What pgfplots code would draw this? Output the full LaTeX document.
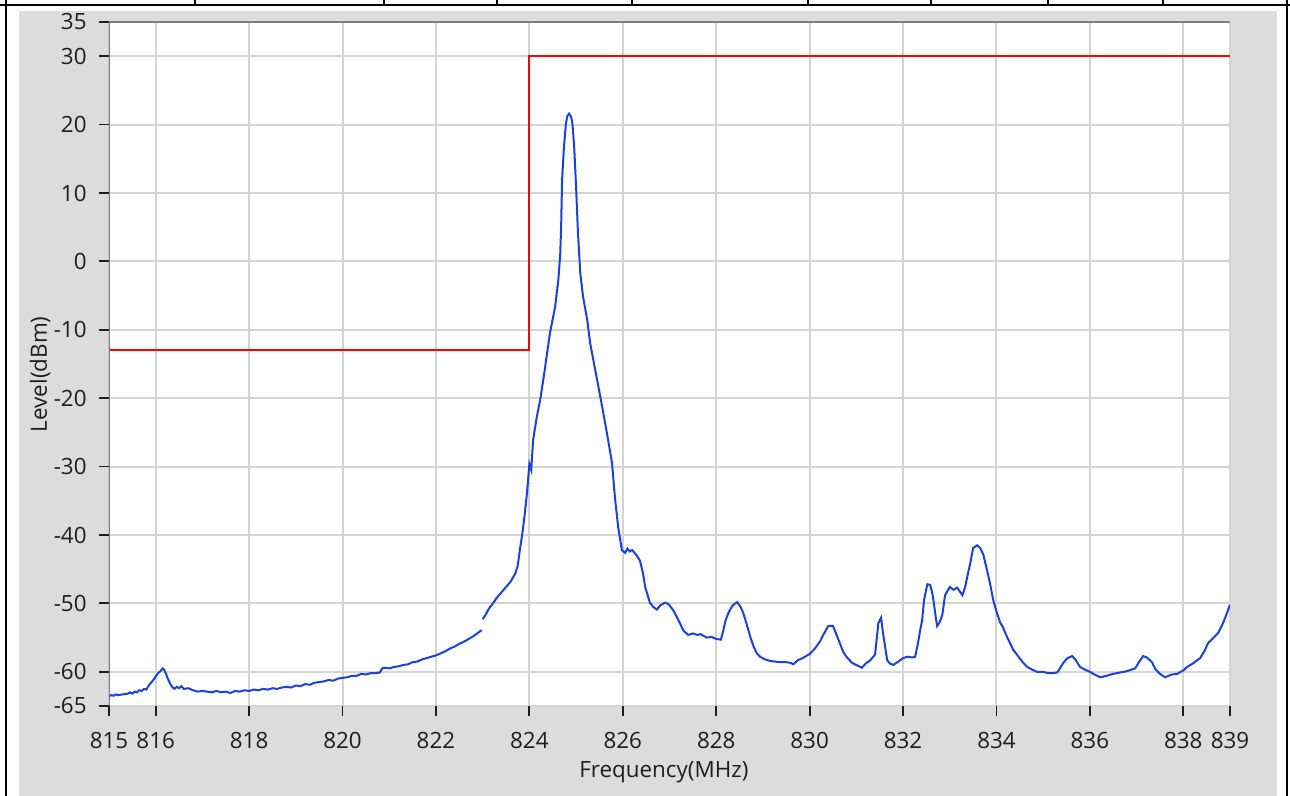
\documentclass[border=0pt]{standalone}
\usepackage{pgfplots}
\pgfplotsset{compat=1.18}
\usepackage{fontspec}
\setmainfont{Open Sans}
\definecolor{panel}{RGB}{220,220,220}
\definecolor{gridc}{RGB}{212,212,212}
\definecolor{tracec}{RGB}{25,65,220}
\definecolor{framec}{RGB}{125,125,125}
\definecolor{txt}{RGB}{30,30,30}

\pgfplotstableread{
x y
815.00 -63.6
815.05 -63.4
815.10 -63.5
815.15 -63.3
815.20 -63.4
815.30 -63.3
815.40 -63.2
815.45 -63.0
815.50 -63.2
815.55 -62.9
815.60 -63.0
815.65 -62.7
815.70 -62.8
815.75 -62.5
815.80 -62.6
815.85 -62.0
815.90 -61.6
815.95 -61.2
816.00 -60.7
816.05 -60.2
816.10 -59.9
816.15 -59.5
816.18 -59.7
816.22 -60.3
816.26 -61.0
816.30 -61.6
816.35 -62.2
816.40 -62.5
816.45 -62.2
816.50 -62.4
816.55 -62.1
816.60 -62.5
816.70 -62.4
816.80 -62.7
816.90 -62.9
817.00 -62.8
817.10 -62.9
817.20 -63.0
817.30 -62.8
817.40 -63.0
817.50 -62.9
817.60 -63.1
817.70 -62.8
817.80 -62.9
817.90 -62.7
818.00 -62.8
818.10 -62.6
818.20 -62.7
818.30 -62.5
818.40 -62.6
818.50 -62.4
818.60 -62.5
818.70 -62.3
818.80 -62.2
818.90 -62.3
819.00 -62.0
819.10 -62.1
819.20 -61.8
819.30 -61.9
819.40 -61.6
819.50 -61.5
819.60 -61.4
819.70 -61.2
819.80 -61.3
819.90 -61.0
820.00 -60.9
820.10 -60.8
820.20 -60.6
820.30 -60.6
820.40 -60.3
820.50 -60.4
820.60 -60.2
820.70 -60.2
820.80 -60.1
820.85 -59.5
820.90 -59.4
821.00 -59.5
821.10 -59.3
821.20 -59.2
821.30 -59.0
821.40 -58.9
821.50 -58.6
821.60 -58.5
821.70 -58.2
821.80 -58.0
821.90 -57.8
822.00 -57.6
822.10 -57.3
822.20 -57.0
822.30 -56.6
822.40 -56.3
822.50 -55.9
822.60 -55.6
822.70 -55.2
822.80 -54.8
822.90 -54.3
822.98 -53.9
}\traceA

\pgfplotstableread{
x y
823.00 -52.3
823.05 -51.8
823.10 -51.2
823.15 -50.6
823.20 -50.2
823.30 -49.2
823.40 -48.4
823.50 -47.6
823.60 -46.8
823.70 -45.6
823.75 -44.5
823.80 -42.0
823.85 -39.8
823.90 -37.0
823.95 -33.8
824.00 -29.6
824.04 -30.5
824.08 -26.1
824.16 -22.7
824.23 -20.3
824.30 -17.2
824.38 -13.4
824.44 -10.5
824.55 -6.7
824.62 -2.7
824.66 1.0
824.68 5.0
824.70 11.9
824.74 16.7
824.78 20.0
824.81 21.2
824.85 21.6
824.89 21.2
824.92 20.3
824.96 16.7
825.00 10.9
825.04 4.2
825.09 -1.7
825.15 -5.2
825.24 -8.6
825.30 -11.9
825.41 -15.9
825.45 -17.3
825.56 -21.3
825.66 -25.1
825.77 -29.5
825.83 -34.4
825.90 -38.8
825.98 -42.2
826.05 -42.6
826.10 -42.0
826.15 -42.4
826.20 -42.2
826.30 -43.0
826.37 -43.8
826.43 -45.5
826.48 -47.6
826.58 -49.9
826.65 -50.5
826.73 -50.9
826.80 -50.3
826.90 -49.9
826.98 -50.1
827.08 -51.0
827.15 -51.9
827.23 -53.0
827.30 -54.0
827.40 -54.6
827.50 -54.4
827.60 -54.6
827.66 -54.5
827.80 -55.0
827.90 -54.9
828.00 -55.2
828.10 -55.3
828.15 -54.0
828.20 -52.5
828.26 -51.4
828.35 -50.3
828.45 -49.8
828.52 -50.5
828.58 -51.4
828.65 -53.0
828.73 -54.9
828.80 -56.3
828.87 -57.3
828.94 -57.8
829.05 -58.2
829.15 -58.4
829.25 -58.5
829.37 -58.6
829.50 -58.6
829.60 -58.7
829.65 -58.9
829.75 -58.3
829.85 -58.0
830.00 -57.4
830.10 -56.7
830.22 -55.6
830.30 -54.5
830.40 -53.3
830.50 -53.3
830.60 -55.0
830.72 -57.1
830.80 -57.9
830.91 -58.7
831.00 -59.0
831.12 -59.4
831.20 -58.8
831.30 -58.3
831.40 -57.5
831.44 -55.0
831.47 -52.9
831.53 -52.1
831.57 -54.3
831.62 -56.5
831.66 -58.3
831.72 -58.8
831.79 -59.0
831.90 -58.5
832.00 -58.0
832.09 -57.8
832.20 -57.9
832.26 -57.8
832.32 -55.8
832.37 -53.8
832.41 -52.4
832.45 -49.5
832.52 -47.2
832.58 -47.3
832.62 -48.3
832.65 -49.5
832.70 -52.0
832.73 -53.3
832.78 -52.8
832.84 -51.7
832.90 -48.8
833.00 -47.6
833.08 -48.0
833.16 -47.7
833.22 -48.3
833.27 -48.8
833.33 -47.6
833.40 -45.3
833.44 -44.1
833.50 -41.9
833.59 -41.5
833.66 -42.0
833.72 -42.9
833.80 -45.2
833.86 -47.0
833.93 -49.5
834.01 -51.4
834.08 -52.8
834.14 -53.5
834.22 -54.8
834.29 -55.8
834.36 -56.8
834.44 -57.5
834.55 -58.5
834.66 -59.3
834.77 -59.7
834.87 -60.0
835.00 -60.0
835.10 -60.2
835.20 -60.2
835.30 -60.1
835.36 -59.5
835.43 -58.7
835.52 -58.0
835.62 -57.7
835.70 -58.3
835.79 -59.3
835.90 -59.7
836.00 -60.0
836.10 -60.4
836.22 -60.8
836.35 -60.6
836.50 -60.3
836.65 -60.1
836.80 -59.9
836.97 -59.5
837.05 -58.6
837.14 -57.7
837.22 -57.9
837.33 -58.6
837.40 -59.6
837.50 -60.3
837.61 -60.8
837.75 -60.4
837.87 -60.3
838.00 -59.8
838.08 -59.3
838.20 -58.8
838.36 -58.0
838.45 -57.0
838.53 -55.8
838.65 -55.0
838.75 -54.3
838.85 -52.9
838.93 -51.5
839.00 -50.2
}\traceB

\begin{document}
\begin{tikzpicture}[font=\fontsize{11.2}{13}\selectfont]
% grey panel behind the plot
\fill[panel] (-45pt,-45pt) rectangle (584pt,347.5pt);
\begin{axis}[
    at={(0,0)}, anchor=south west,
    scale only axis,
    width=560.5pt, height=342pt,
    xmin=815, xmax=839,
    ymin=-65, ymax=35,
    xtick={815,816,818,...,838,839},
    ytick={-65,-60,-50,...,30,35},
    /pgf/number format/assume math mode=true,
    /pgf/number format/set thousands separator={},
    axis background/.style={fill=white},
    axis line style={draw=none},
    grid=major,
    major grid style={draw=gridc, line width=1pt},
    tick pos=left,
    tick align=outside,
    major tick length=5pt,
    tick style={txt, line width=0.9pt},
    tick label style={text=txt},
    xticklabel style={anchor=north, inner sep=0pt, yshift=-8pt},
    yticklabel style={anchor=east, inner sep=0pt, xshift=-6pt},
    every axis x label/.style={at={(axis description cs:0.495,-0.0965)}, anchor=center, text=txt},
    every axis y label/.style={at={(axis description cs:-0.0615,0.485)}, anchor=center, rotate=90, text=txt},
    xlabel={Frequency(MHz)},
    ylabel={Level(dBm)},
    clip=true,
]
\addplot[red, line width=1pt] coordinates {(815,-13) (824,-13) (824,30) (839,30)};
\addplot[tracec, line width=1pt] table[x=x, y=y] {\traceA};
\addplot[tracec, line width=1pt] table[x=x, y=y] {\traceB};
\draw[framec, line width=1pt] (rel axis cs:0,0) -- (rel axis cs:0,1) -- (rel axis cs:1,1);
\end{axis}
% screenshot frame
\draw[black, line width=1.2pt] (-54.5pt,350.5pt) -- (590.5pt,350.5pt);
\draw[black, line width=1.2pt] (-51.5pt,353pt) -- (-51.5pt,-45pt);
\draw[black, line width=1.2pt] (589pt,353pt) -- (589pt,-45pt);
\foreach \p in {195,384,497,632,808,931,1048,1163}
  \draw[black, line width=1.2pt] ({(\p-109)*0.5pt},353pt) -- ({(\p-109)*0.5pt},350.5pt);
\pgfresetboundingbox
\path[use as bounding box] (-54.5pt,-45pt) rectangle (590.5pt,353pt);
\end{tikzpicture}
\end{document}
